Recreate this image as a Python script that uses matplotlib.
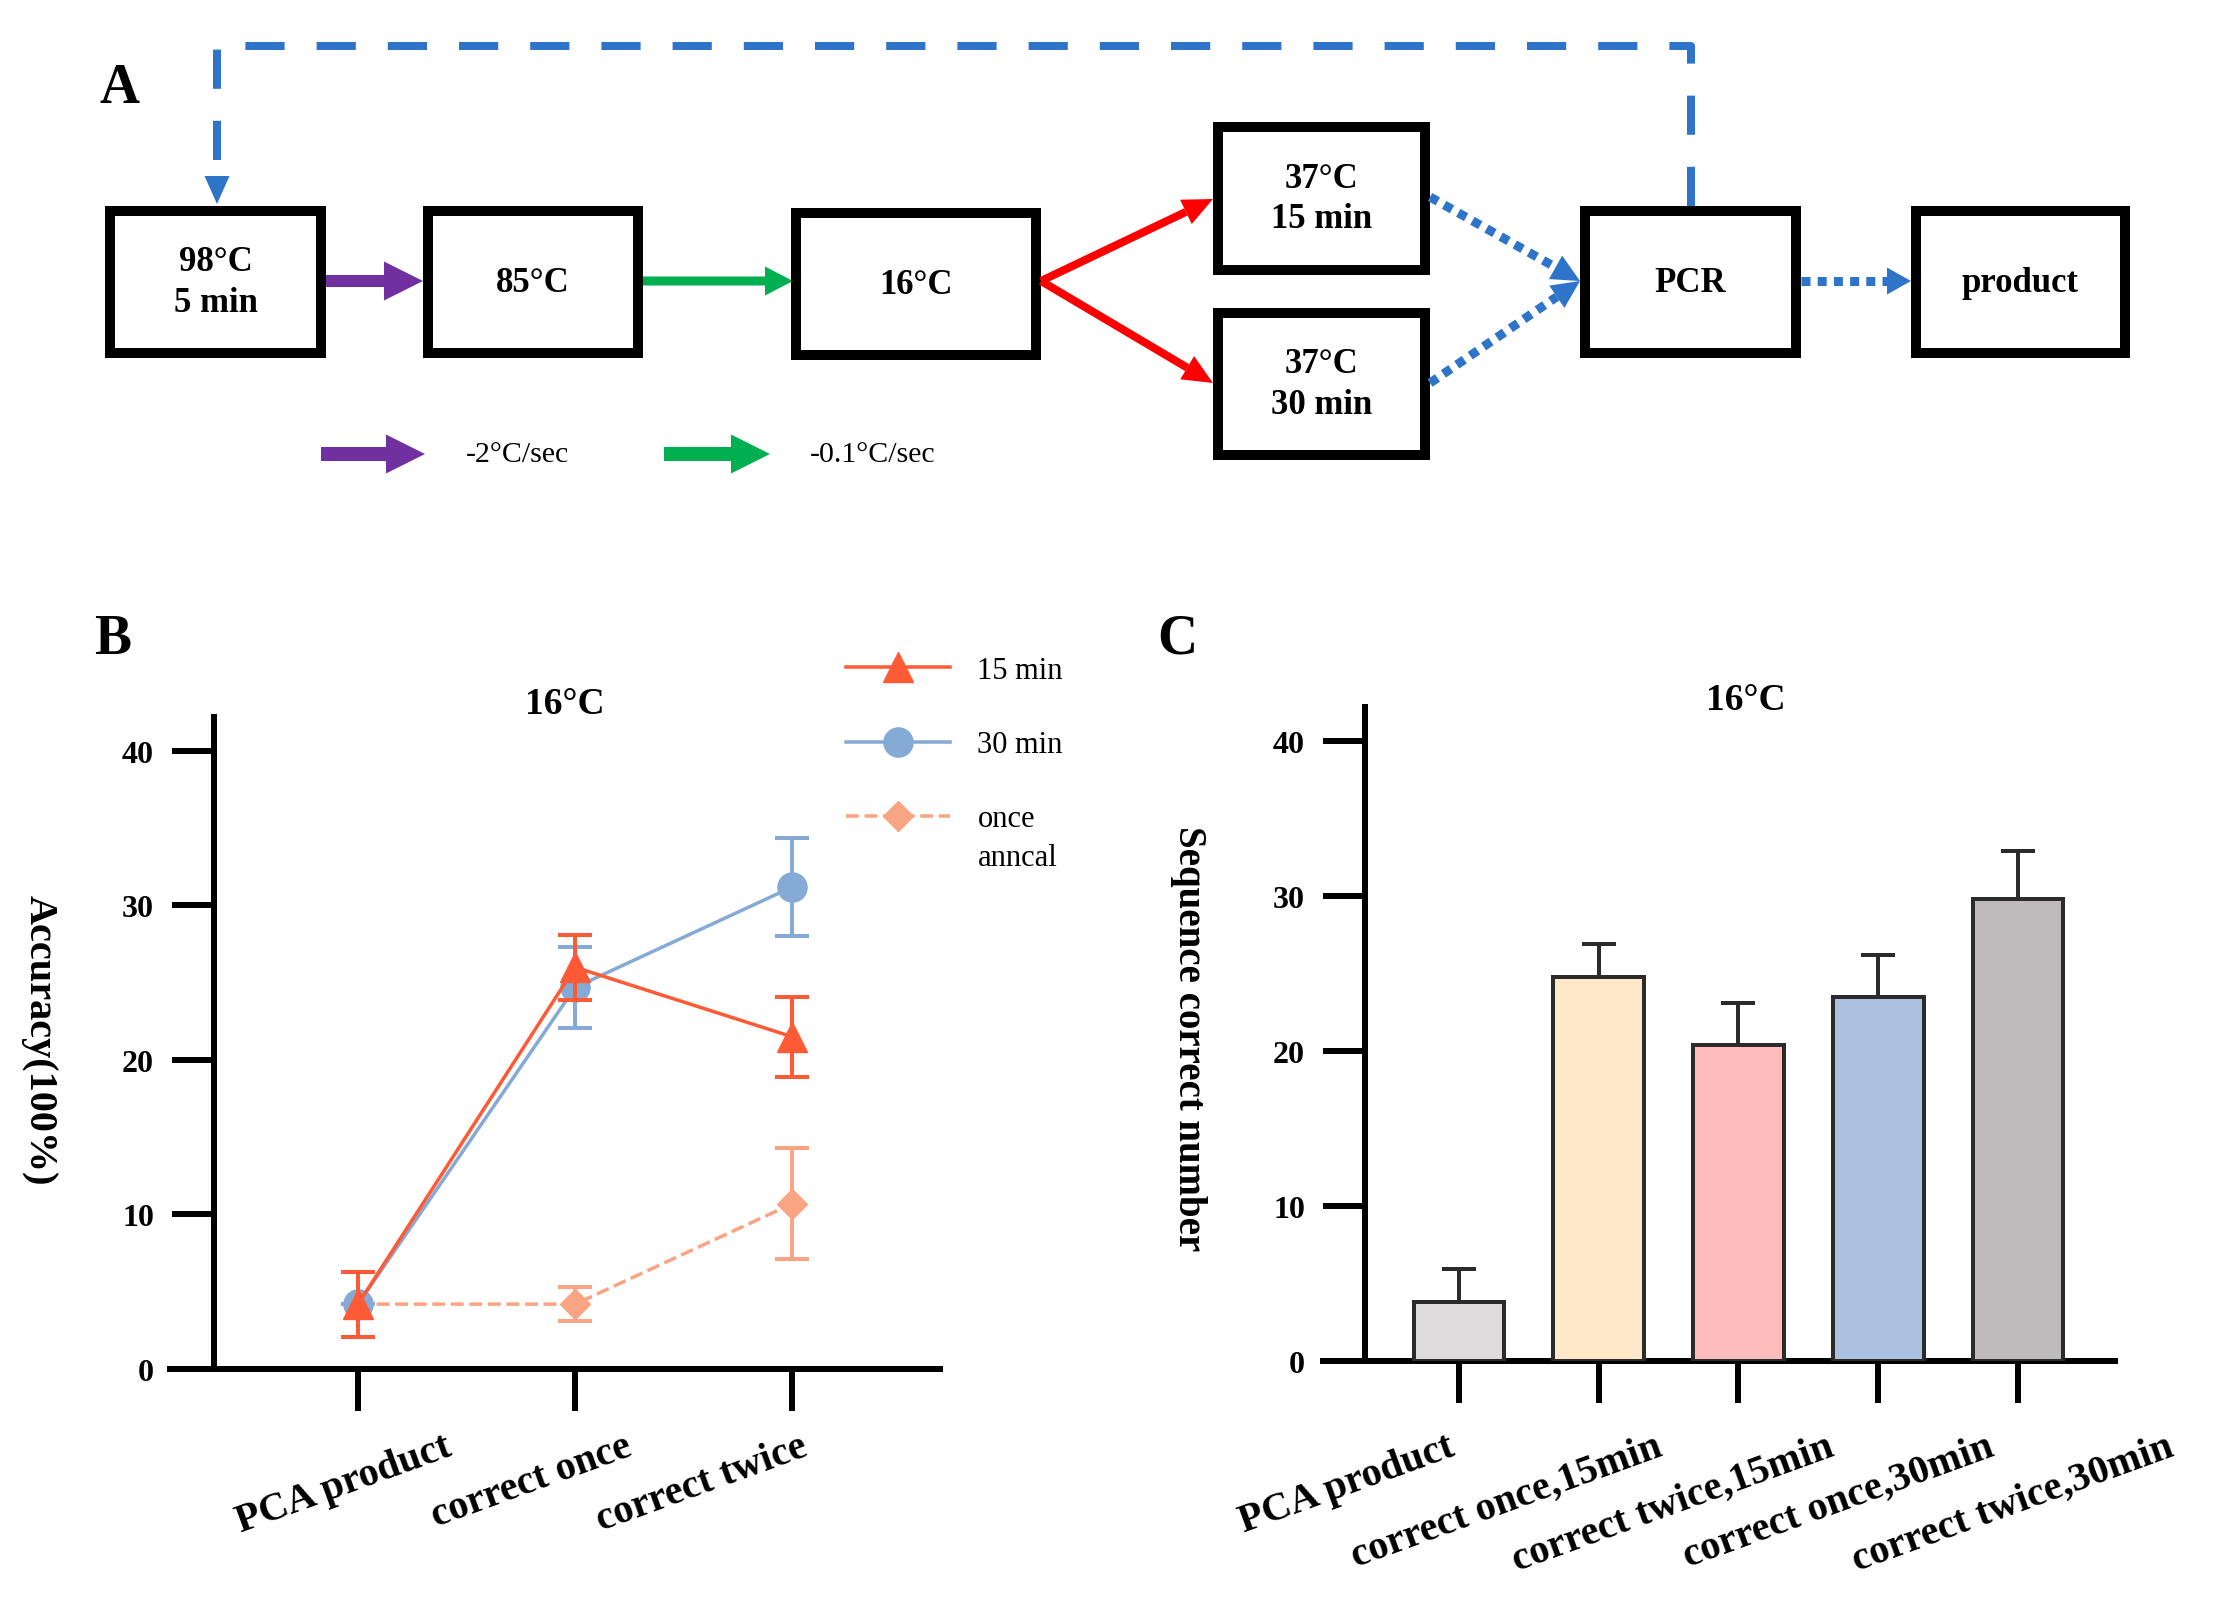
"""
Annealing workflow diagram (A) plus accuracy line chart (B) and
sequence-correct bar chart (C) at 16°C.
"""

import matplotlib
matplotlib.use('Agg')
import matplotlib.pyplot as plt
from matplotlib.patches import Rectangle, FancyArrow, Polygon
from matplotlib.lines import Line2D
from matplotlib.transforms import ScaledTranslation
import numpy as np

plt.rcParams['font.family'] = ['Liberation Serif', 'DejaVu Serif']

W, H = 2221, 1608
DPI = 100
PX = 72.0 / DPI  # points per pixel

# ---- panel A labels
steps_a = ['98°C\n5 min', '85°C', '16°C', '37°C\n15 min', '37°C\n30 min', 'PCR', 'product']
rate_labels = ['-2°C/sec', '-0.1°C/sec']

# ---- panel B data (accuracy, mean and sd)
steps_b = ['PCA product', 'correct once', 'correct twice']
acc_15 = [4.2, 26.0, 21.5]
acc_15_sd = [2.1, 2.1, 2.6]
acc_30 = [4.2, 24.7, 31.2]
acc_30_sd = [0.0, 2.6, 3.2]
acc_once = [4.2, 4.2, 10.7]
acc_once_sd = [0.0, 1.1, 3.6]

# ---- panel C data
groups_c = ['PCA product', 'correct once,15min', 'correct twice,15min',
            'correct once,30min', 'correct twice,30min']
seq_mean = [3.8, 24.8, 20.4, 23.5, 29.8]
seq_sd = [2.15, 2.1, 2.7, 2.7, 3.1]
bar_colors = ['#DEDBDC', '#FFE8C9', '#FFBCBC', '#ABC1E0', '#BFBBBC']

# colours
BLUE = '#2E74C9'
PURPLE = '#7030A0'
GREEN = '#00B050'
RED = '#FF0000'
C15 = '#FF5A36'
C30 = '#85AAD5'
CONCE = '#F9A583'

fig = plt.figure(figsize=(W / DPI, H / DPI), dpi=DPI)

# overlay axes in pixel coordinates (y down) for the diagram and panel letters
ov = fig.add_axes([0, 0, 1, 1])
ov.set_xlim(0, W)
ov.set_ylim(H, 0)
ov.axis('off')


def head(ax, x0, y0, x1, y1, length, width, color):
    d = np.array([x1 - x0, y1 - y0], dtype=float)
    d /= np.hypot(*d)
    n = np.array([-d[1], d[0]])
    tip = np.array([x1, y1], dtype=float)
    base = tip - d * length
    ax.add_patch(Polygon([tip, base + n * width / 2, base - n * width / 2],
                         closed=True, color=color, lw=0, zorder=4))
    return base


def line_arrow(ax, x0, y0, x1, y1, color, lw, ls='-', hl=28, hw=26):
    base = head(ax, x0, y0, x1, y1, hl, hw, color)
    ax.plot([x0, base[0]], [y0, base[1]], color=color, lw=lw * PX, ls=ls,
            solid_capstyle='butt', zorder=3)


# box layout: (x0, y0, x1, y1) in pixels
boxes = [(105, 207, 326, 359), (423, 207, 643, 359), (791, 209, 1041, 361),
         (1213, 123, 1430, 276), (1213, 309, 1430, 461),
         (1580, 207, 1801, 359), (1911, 207, 2130, 359)]
for (x0, y0, x1, y1), lab in zip(boxes, steps_a):
    ov.add_patch(Rectangle((x0 + 5, y0 + 5), x1 - x0 - 10, y1 - y0 - 10,
                           facecolor='white', edgecolor='black', lw=10 * PX,
                           joinstyle='miter', zorder=2))
    ov.text((x0 + x1) / 2, (y0 + y1) / 2, lab, ha='center', va='center',
            fontsize=25, fontweight='bold', linespacing=1.3, zorder=5)

yc = 282
# fat arrows
ov.add_patch(FancyArrow(326, yc, 97, 0, width=12, head_width=39, head_length=39,
                        length_includes_head=True, color=PURPLE, lw=0))
ov.add_patch(FancyArrow(643, yc, 150, 0, width=9, head_width=29, head_length=28,
                        length_includes_head=True, color=GREEN, lw=0))
# red split arrows
line_arrow(ov, 1041, yc, 1213, 200, RED, 8, hl=30, hw=27)
line_arrow(ov, 1041, yc, 1213, 384, RED, 8, hl=30, hw=27)
# dotted blue arrows
dot = (0, (1, 0.8))
line_arrow(ov, 1430, 198, 1580, yc, BLUE, 9, ls=dot, hl=28, hw=27)
line_arrow(ov, 1430, 384, 1580, yc, BLUE, 9, ls=dot, hl=28, hw=27)
line_arrow(ov, 1801, yc, 1911, yc, BLUE, 9, ls=dot, hl=24, hw=27)
# dashed loop back from PCR to the start
ov.plot([1691, 1691, 217, 217], [207, 47, 47, 180], color=BLUE, lw=8 * PX,
        ls=(0, (4.9, 4.0)), solid_joinstyle='miter', zorder=3)
head(ov, 217, 170, 217, 205, 28, 25, BLUE)

# rate legend
ov.add_patch(FancyArrow(321, 455, 104, 0, width=14, head_width=39, head_length=39,
                        length_includes_head=True, color=PURPLE, lw=0))
ov.add_patch(FancyArrow(664, 455, 106, 0, width=14, head_width=39, head_length=39,
                        length_includes_head=True, color=GREEN, lw=0))
ov.text(466, 455, rate_labels[0], ha='left', va='center', fontsize=21.5)
ov.text(810, 455, rate_labels[1], ha='left', va='center', fontsize=21.5)

# panel letters
for x, y, s in [(120, 89, 'A'), (113, 640, 'B'), (1177, 640, 'C')]:
    ov.text(x, y, s, ha='center', va='center', fontsize=40, fontweight='bold')


def style_axes(ax, spine_frac, label_pad):
    for side in ['top', 'right']:
        ax.spines[side].set_visible(False)
    for side in ['left', 'bottom']:
        ax.spines[side].set_linewidth(6 * PX)
    ax.spines['left'].set_position(('axes', spine_frac))
    ax.tick_params(width=6 * PX, length=42 * PX, direction='out')
    ax.tick_params(axis='y', labelsize=23, pad=18 * PX)
    ax.tick_params(axis='x', labelsize=29, pad=label_pad)
    ax.set_yticks([0, 10, 20, 30, 40])
    ax.set_ylim(0, 42.2)
    for lbl in ax.get_yticklabels():
        lbl.set_fontweight('bold')
    ax.patch.set_alpha(0)


def shift_xlabels(ax, offsets_px):
    for lbl, dx in zip(ax.get_xticklabels(), offsets_px):
        lbl.set_transform(lbl.get_transform() +
                          ScaledTranslation(dx / DPI, 0, fig.dpi_scale_trans))


# ---- panel B
axB = fig.add_axes([170 / W, 1 - 1370 / H, 770 / W, 652 / H])
xb = np.arange(len(steps_b))
axB.set_xlim(-0.866, 2.68)
axB.errorbar(xb, acc_once, yerr=acc_once_sd, color=CONCE, ls='--', lw=3.5 * PX,
             marker='D', ms=15, elinewidth=4 * PX, capsize=17 * PX,
             capthick=4 * PX, zorder=2)
axB.errorbar(xb, acc_30, yerr=acc_30_sd, color=C30, lw=3.5 * PX, marker='o',
             ms=21, elinewidth=4 * PX, capsize=17 * PX, capthick=4 * PX, zorder=3)
axB.errorbar(xb, acc_15, yerr=acc_15_sd, color=C15, lw=3.5 * PX, marker='^',
             ms=22, elinewidth=4 * PX, capsize=17 * PX, capthick=4 * PX, zorder=4)
style_axes(axB, 44 / 770, 12)
axB.set_xticks(xb)
axB.set_xticklabels(steps_b, rotation=20, ha='center', fontweight='bold')
shift_xlabels(axB, [-14, -44, -90])
axB.set_title('16°C', fontsize=27, fontweight='bold', pad=3, x=0.513, y=1.0)
axB.set_ylabel('Accuracy(100%)', fontsize=29, fontweight='bold', rotation=270,
               va='center', ha='center')
axB.yaxis.set_label_coords(-0.17, 0.506)

handles = [
    Line2D([], [], color=C15, lw=3.5 * PX, marker='^', ms=22),
    Line2D([], [], color=C30, lw=3.5 * PX, marker='o', ms=21),
    Line2D([], [], color=CONCE, lw=3.5 * PX, ls='--', marker='D', ms=15),
]
axB.legend(handles, ['15 min', '30 min', 'once'], loc='upper left',
           bbox_to_anchor=(846 / W, 1 - 657 / H), bbox_transform=fig.transFigure,
           frameon=False, fontsize=22, handlelength=3.4, handletextpad=0.9,
           labelspacing=1.48, borderpad=0, borderaxespad=0)
ov.text(978, 859, 'anncal', ha='left', va='center', fontsize=22)

# ---- panel C
axC = fig.add_axes([1323 / W, 1 - 1362 / H, 792 / W, 654 / H])
xc = np.arange(len(groups_c))
axC.set_xlim(-0.973, 4.694)
axC.bar(xc, seq_mean, width=0.65, color=bar_colors, edgecolor='#2B2B2B',
        lw=4 * PX, zorder=3)
axC.errorbar(xc, seq_mean, yerr=[np.zeros(len(xc)), seq_sd], fmt='none',
             ecolor='#2B2B2B', elinewidth=4 * PX, capsize=17 * PX,
             capthick=4 * PX, zorder=2)
style_axes(axC, 42 / 792, 18)
axC.set_xticks(xc)
axC.set_xticklabels(groups_c, rotation=20, ha='center', fontweight='bold')
shift_xlabels(axC, [-112, -92, -65, -40, -5])
axC.set_title('16°C', fontsize=27, fontweight='bold', pad=0, x=0.534, y=0.997)
axC.set_ylabel('Sequence correct number', fontsize=28, fontweight='bold',
               rotation=270, va='center', ha='center')
axC.yaxis.set_label_coords(-0.17, 0.495)

fig.savefig('out.png', dpi=DPI)
plt.close(fig)
